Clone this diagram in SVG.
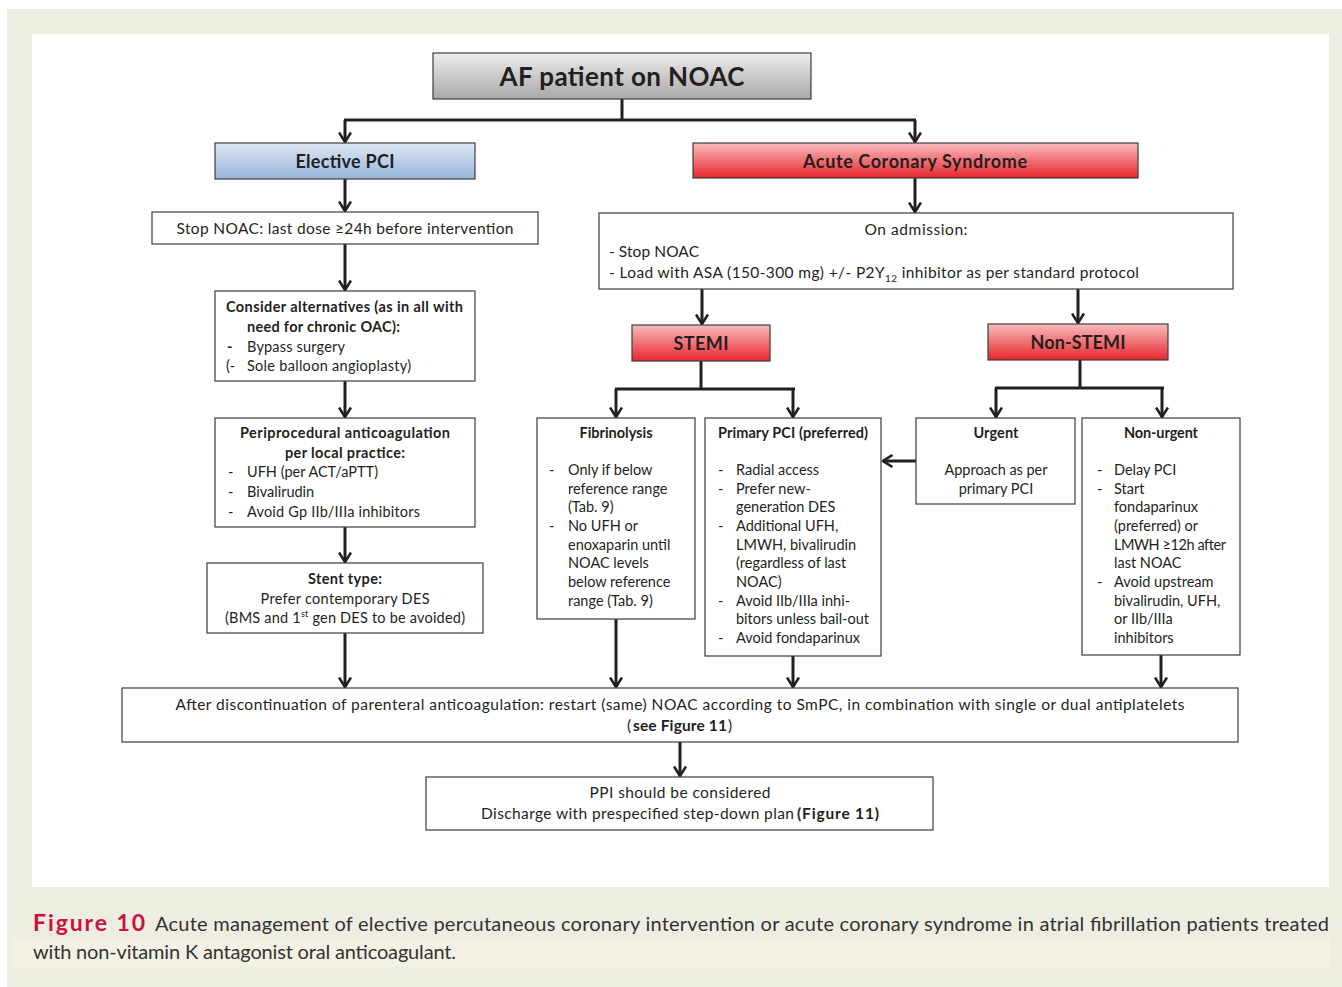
<svg xmlns="http://www.w3.org/2000/svg" width="1342" height="987" viewBox="0 0 1342 987">
<style>
text{font-family:Lato,"Liberation Sans",sans-serif;fill:#231f20;}
.t{font-size:14.5px;}
.b{font-weight:bold;}
.c{text-anchor:middle;}
.hd{font-size:18px;font-weight:bold;text-anchor:middle;}
.box{fill:#ffffff;stroke:#3c3c3c;stroke-width:1.2;}
.hbox{stroke:#3c3c3c;stroke-width:1.2;}
.ln{fill:none;stroke:#231f20;stroke-width:3;}
.ar{fill:none;stroke:#231f20;stroke-width:3;marker-end:url(#ah);}
.cap{font-size:20px;fill:#333333;}
</style>
<defs>
<marker id="ah" viewBox="0 0 12 14" refX="10.5" refY="7" markerWidth="12" markerHeight="14" orient="auto" markerUnits="userSpaceOnUse">
<path d="M1,1 L10.5,7 L1,13" fill="none" stroke="#231f20" stroke-width="2.6"/>
</marker>
<linearGradient id="gGray" x1="0" y1="0" x2="0" y2="1">
<stop offset="0" stop-color="#ececec"/><stop offset="1" stop-color="#a9a9a9"/>
</linearGradient>
<linearGradient id="gBlue" x1="0" y1="0" x2="0" y2="1">
<stop offset="0" stop-color="#dfe8f4"/><stop offset="1" stop-color="#97b5da"/>
</linearGradient>
<linearGradient id="gRed" x1="0" y1="0" x2="0" y2="1">
<stop offset="0" stop-color="#f9bcbe"/><stop offset="1" stop-color="#e8262d"/>
</linearGradient>
</defs>

<rect x="0" y="0" width="1342" height="987" fill="#ffffff"/>
<rect x="7" y="9" width="1335" height="978" fill="#eeede2"/>
<rect x="32" y="34" width="1297" height="853" fill="#ffffff"/>
<rect x="12" y="938" width="1318" height="29" fill="#f4f1e4"/>

<g id="connectors">
<polyline class="ln" points="622,99 622,120"/>
<polyline class="ar" points="345,120 345,142"/>
<polyline class="ln" points="344,120 916,120"/>
<polyline class="ar" points="915,120 915,142"/>
<polyline class="ar" points="345,179 345,211"/>
<polyline class="ar" points="345,244 345,290"/>
<polyline class="ar" points="345,381 345,417"/>
<polyline class="ar" points="345,527 345,562"/>
<polyline class="ar" points="345,633 345,687"/>
<polyline class="ar" points="915,178 915,212"/>
<polyline class="ar" points="702,289 702,324"/>
<polyline class="ar" points="1078,289 1078,323"/>
<polyline class="ln" points="701,361 701,389"/>
<polyline class="ln" points="615,389 795,389"/>
<polyline class="ar" points="616,389 616,417"/>
<polyline class="ar" points="793,389 793,417"/>
<polyline class="ln" points="1080,360 1080,388"/>
<polyline class="ln" points="995,388 1164,388"/>
<polyline class="ar" points="996,388 996,417"/>
<polyline class="ar" points="1162,388 1162,417"/>
<polyline class="ar" points="916,461 883,461"/>
<polyline class="ar" points="616,619 616,687"/>
<polyline class="ar" points="793,656 793,687"/>
<polyline class="ar" points="1161,655 1161,687"/>
<polyline class="ar" points="680,742 680,776"/>
</g>

<g id="n-root">
<rect class="hbox" x="433" y="53" width="378" height="46" fill="url(#gGray)"/>
<text x="622" y="86" class="c b" font-size="26" textLength="245">AF patient on NOAC</text>
</g>

<g id="n-elective">
<rect class="hbox" x="215" y="143" width="260" height="36" fill="url(#gBlue)"/>
<text x="345" y="168" class="hd" textLength="99">Elective PCI</text>
</g>

<g id="n-acs">
<rect class="hbox" x="693" y="143" width="445" height="35" fill="url(#gRed)"/>
<text x="915" y="168" class="hd" textLength="224">Acute Coronary Syndrome</text>
</g>

<g id="n-stop">
<rect class="box" x="152" y="212" width="386" height="32"/>
<text x="345" y="234" class="c" font-size="15.5" textLength="337">Stop NOAC: last dose ≥24h before intervention</text>
</g>

<g id="n-alternatives">
<rect class="box" x="215" y="291" width="260" height="90"/>
<text x="226" y="312" class="t b" textLength="237">Consider alternatives (as in all with</text>
<text x="247" y="332" class="t b" textLength="153">need for chronic OAC):</text>
<text x="227" y="352" class="t b">-</text>
<text x="247" y="352" class="t" textLength="98">Bypass surgery</text>
<text x="226" y="371" class="t">(-</text>
<text x="247" y="371" class="t" textLength="164">Sole balloon angioplasty)</text>
</g>

<g id="n-periprocedural">
<rect class="box" x="215" y="418" width="260" height="109"/>
<text x="345" y="438" class="t b c" textLength="210">Periprocedural anticoagulation</text>
<text x="345" y="458" class="t b c" textLength="120">per local practice:</text>
<text x="228" y="477" class="t">-</text>
<text x="247" y="477" class="t" textLength="131">UFH (per ACT/aPTT)</text>
<text x="228" y="497" class="t">-</text>
<text x="247" y="497" class="t">Bivalirudin</text>
<text x="228" y="517" class="t">-</text>
<text x="247" y="517" class="t" textLength="173">Avoid Gp IIb/IIIa inhibitors</text>
</g>

<g id="n-stent">
<rect class="box" x="207" y="563" width="276" height="70"/>
<text x="345" y="584" class="t b c" textLength="74">Stent type:</text>
<text x="345" y="604" class="t c" textLength="169">Prefer contemporary DES</text>
<text x="225" y="623" class="t" textLength="240">(BMS and 1<tspan font-size="9" dy="-6">st</tspan><tspan dy="6"> gen DES to be avoided)</tspan></text>
</g>

<g id="n-admission">
<rect class="box" x="599" y="213" width="634" height="76"/>
<text x="916" y="235" class="c" font-size="15.5" textLength="103">On admission:</text>
<text x="609" y="257" font-size="15.5" textLength="90">- Stop NOAC</text>
<text x="609" y="278" font-size="15.5" textLength="530">- Load with ASA (150-300 mg) +/- P2Y<tspan font-size="10" dy="4">12</tspan><tspan dy="-4"> inhibitor as per standard protocol</tspan></text>
</g>

<g id="n-stemi">
<rect class="hbox" x="632" y="325" width="138" height="36" fill="url(#gRed)"/>
<text x="701" y="350" class="hd" textLength="55">STEMI</text>
</g>

<g id="n-nonstemi">
<rect class="hbox" x="988" y="324" width="180" height="36" fill="url(#gRed)"/>
<text x="1078" y="349" class="hd" textLength="95">Non-STEMI</text>
</g>

<g id="n-fibrinolysis">
<rect class="box" x="537" y="418" width="158" height="201"/>
<text x="616" y="438" class="t b c" textLength="73">Fibrinolysis</text>
<text x="549" y="475" class="t">-</text>
<text x="568" y="475" class="t">Only if below</text>
<text x="568" y="494" class="t">reference range</text>
<text x="568" y="512" class="t">(Tab. 9)</text>
<text x="549" y="531" class="t">-</text>
<text x="568" y="531" class="t">No UFH or</text>
<text x="568" y="550" class="t">enoxaparin until</text>
<text x="568" y="568" class="t">NOAC levels</text>
<text x="568" y="587" class="t">below reference</text>
<text x="568" y="606" class="t">range (Tab. 9)</text>
</g>

<g id="n-primarypci">
<rect class="box" x="705" y="418" width="176" height="238"/>
<text x="793" y="438" class="t b c" textLength="150">Primary PCI (preferred)</text>
<text x="718" y="475" class="t">-</text>
<text x="736" y="475" class="t">Radial access</text>
<text x="718" y="494" class="t">-</text>
<text x="736" y="494" class="t">Prefer new-</text>
<text x="736" y="512" class="t">generation DES</text>
<text x="718" y="531" class="t">-</text>
<text x="736" y="531" class="t">Additional UFH,</text>
<text x="736" y="550" class="t">LMWH, bivalirudin</text>
<text x="736" y="568" class="t">(regardless of last</text>
<text x="736" y="587" class="t">NOAC)</text>
<text x="718" y="606" class="t">-</text>
<text x="736" y="606" class="t">Avoid IIb/IIIa inhi-</text>
<text x="736" y="624" class="t" textLength="133">bitors unless bail-out</text>
<text x="718" y="643" class="t">-</text>
<text x="736" y="643" class="t">Avoid fondaparinux</text>
</g>

<g id="n-urgent">
<rect class="box" x="916" y="418" width="159" height="86"/>
<text x="996" y="438" class="t b c" textLength="45">Urgent</text>
<text x="996" y="475" class="t c" textLength="103">Approach as per</text>
<text x="996" y="494" class="t c">primary PCI</text>
</g>

<g id="n-nonurgent">
<rect class="box" x="1082" y="418" width="158" height="237"/>
<text x="1161" y="438" class="t b c" textLength="74">Non-urgent</text>
<text x="1097" y="475" class="t">-</text>
<text x="1114" y="475" class="t">Delay PCI</text>
<text x="1097" y="494" class="t">-</text>
<text x="1114" y="494" class="t">Start</text>
<text x="1114" y="512" class="t">fondaparinux</text>
<text x="1114" y="531" class="t">(preferred) or</text>
<text x="1114" y="550" class="t" textLength="112">LMWH ≥12h after</text>
<text x="1114" y="568" class="t">last NOAC</text>
<text x="1097" y="587" class="t">-</text>
<text x="1114" y="587" class="t">Avoid upstream</text>
<text x="1114" y="606" class="t">bivalirudin, UFH,</text>
<text x="1114" y="624" class="t">or IIb/IIIa</text>
<text x="1114" y="643" class="t">inhibitors</text>
</g>

<g id="n-restart">
<rect class="box" x="122" y="688" width="1116" height="54"/>
<text x="680" y="710" class="c" font-size="15.5" textLength="1009">After discontinuation of parenteral anticoagulation: restart (same) NOAC according to SmPC, in combination with single or dual antiplatelets</text>
<text x="627" y="731" font-size="15.5">(</text>
<text x="633" y="731" font-size="15.5" class="b" textLength="94">see Figure 11</text>
<text x="728" y="731" font-size="15.5">)</text>
</g>

<g id="n-discharge">
<rect class="box" x="426" y="777" width="507" height="53"/>
<text x="680" y="798" class="c" font-size="15.5" textLength="181">PPI should be considered</text>
<text x="481" y="819" font-size="15.5" textLength="313">Discharge with prespecified step-down plan</text>
<text x="797" y="819" font-size="15.5" class="b" textLength="82">(Figure 11)</text>
</g>

<g id="caption">
<text x="33" y="931" font-size="23" font-weight="bold" fill="#cc1040" style="fill:#cc1040" textLength="112">Figure 10</text>
<text x="155" y="931" class="cap" textLength="1174">Acute management of elective percutaneous coronary intervention or acute coronary syndrome in atrial fibrillation patients treated</text>
<text x="33" y="959" class="cap" textLength="423">with non-vitamin K antagonist oral anticoagulant.</text>
</g>
</svg>
